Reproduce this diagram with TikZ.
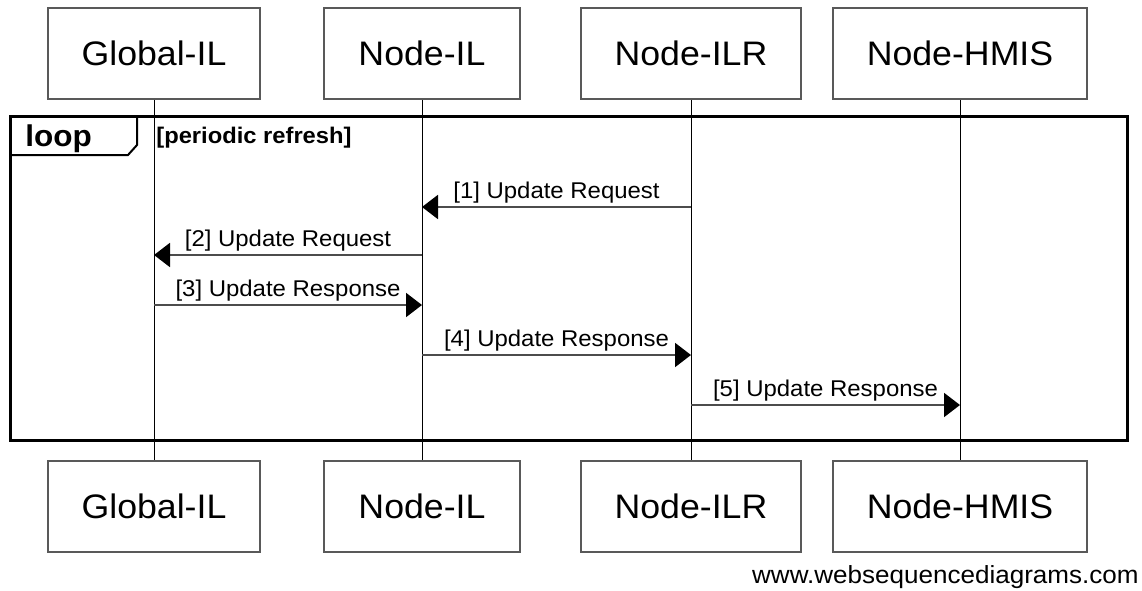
\documentclass[tikz,border=0pt]{standalone}
\usepackage{fontspec}
\setmainfont[FakeStretch=1.05]{Liberation Sans}
\usetikzlibrary{positioning, arrows.meta}

\begin{document}
\begin{tikzpicture}[
    x=0.5pt, y=-0.5pt,
    actor/.style={draw=black!65, line width=1pt, rectangle, minimum height=45.5pt, inner xsep=17pt, font=\fontsize{17}{20}\selectfont},
    life/.style={draw=black, line width=0.5pt},
    frame/.style={draw=black, line width=1.5pt},
    msg/.style={draw=black!70, line width=1pt, -{Triangle[length=8pt, width=12pt, color=black]}},
    lbl/.style={above=1.5pt, inner sep=0pt, font=\fontsize{11.4}{13}\selectfont}
]
\useasboundingbox (0,0) rectangle (1142,590);

% participants
\node[actor] (gil) at (154,53.5) {Global-IL};
\node[actor] (il) at (422,53.5) {Node-IL};
\node[actor] (ilr) at (691,53.5) {Node-ILR};
\node[actor] (hmis) at (960,53.5) {Node-HMIS};

\node[actor, below=180pt of gil] (gil2) {Global-IL};
\node[actor, below=180pt of il] (il2) {Node-IL};
\node[actor, below=180pt of ilr] (ilr2) {Node-ILR};
\node[actor, below=180pt of hmis] (hmis2) {Node-HMIS};

% lifelines
\draw[life] (gil.south) -- (gil2.north);
\draw[life] (il.south) -- (il2.north);
\draw[life] (ilr.south) -- (ilr2.north);
\draw[life] (hmis.south) -- (hmis2.north);

% loop frame
\draw[frame] (10,116) rectangle (1127,440);
\draw[line width=1pt] (10,155) -- (128,155) -- (137,145) -- (137,116);
\node[anchor=base west, inner sep=0pt, font=\fontsize{15}{17}\selectfont\bfseries] (loop) at (25,146) {loop};
\node[anchor=base west, inner sep=0pt, font=\fontsize{11.3}{13}\selectfont\bfseries] (guard) at (156,143) {[periodic refresh]};

% messages
\foreach \y [count=\i] in {207,255,305,355,405}
    \coordinate (row\i) at (0,\y);

\draw[msg] (ilr |- row1) -- node[lbl] {[1] Update Request} (il |- row1);
\draw[msg] (il |- row2) -- node[lbl] {[2] Update Request} (gil |- row2);
\draw[msg] (gil |- row3) -- node[lbl] {[3] Update Response} (il |- row3);
\draw[msg] (il |- row4) -- node[lbl] {[4] Update Response} (ilr |- row4);
\draw[msg] (ilr |- row5) -- node[lbl] {[5] Update Response} (hmis |- row5);

\node[anchor=base east, inner sep=0pt, font=\fontsize{12.4}{14}\selectfont] (site) at (1139,583) {www.websequencediagrams.com};

\end{tikzpicture}
\end{document}
